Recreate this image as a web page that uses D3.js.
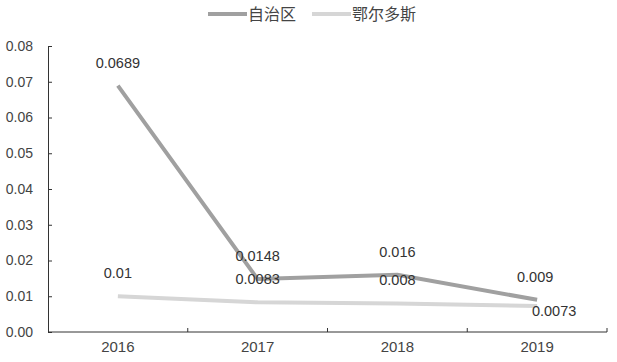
<!DOCTYPE html>
<html><head><meta charset="utf-8">
<script src="https://cdn.jsdelivr.net/npm/d3@7"></script>
<style>body{margin:0;background:#fff}svg{display:block}</style>
</head><body><svg id="c" width="617" height="362"></svg>
<script>
const categories = ["2016","2017","2018","2019"];
const seriesNames = ["自治区","鄂尔多斯"];
const zizhiqu = [0.0689, 0.0148, 0.016, 0.009];
const ordos = [0.01, 0.0083, 0.008, 0.0073];
const yTicks = [0,0.01,0.02,0.03,0.04,0.05,0.06,0.07,0.08];
const yTickLabels = ["0.00","0.01","0.02","0.03","0.04","0.05","0.06","0.07","0.08"];
const zLabels = ["0.0689","0.0148","0.016","0.009"];
const oLabels = ["0.01","0.0083","0.008","0.0073"];

const svg = d3.select("#c");
const font = "'Liberation Sans', 'Noto Sans CJK SC', sans-serif";
const L = 48, R = 607, T = 46, B = 332;
const x = d3.scaleBand().domain(categories).range([L, R]);
const y = d3.scaleLinear().domain([0, 0.08]).range([B, T]);
const cx = d => x(d) + x.bandwidth()/2;

// Y axis
const ya = svg.append("g").attr("transform", `translate(${L},0)`)
  .call(d3.axisLeft(y).tickValues(yTicks).tickFormat((d,i)=>yTickLabels[i]).tickSizeInner(-4).tickSizeOuter(-4).tickPadding(15));
ya.select(".domain").attr("stroke","#333");
ya.selectAll(".tick line").attr("stroke","#333");
ya.selectAll(".tick text").attr("font-family",font).attr("font-size",14).attr("fill","#444");

// X axis
const xa = svg.append("g").attr("transform", `translate(0,${B})`)
  .call(d3.axisBottom(x).tickSize(0).tickPadding(9));
xa.select(".domain").attr("stroke","#333").attr("d", `M${L},0H${R}`);
xa.selectAll(".tick text").attr("font-family",font).attr("font-size",15).attr("fill","#444").attr("dy","0.71em");
// boundary ticks (inside)
const bounds = categories.map(c => x(c)).concat([R]).slice(1);
xa.selectAll(".bt").data(bounds).enter().append("line")
  .attr("x1",d=>d).attr("x2",d=>d).attr("y1",0).attr("y2",-4).attr("stroke","#333");

const line = d3.line().x((d,i)=>cx(categories[i])).y(d=>y(d));
const colors = ["#a0a0a0","#d6d6d6"];
svg.append("path").datum(ordos).attr("d",line).attr("fill","none").attr("stroke",colors[1]).attr("stroke-width",4);
svg.append("path").datum(zizhiqu).attr("d",line).attr("fill","none").attr("stroke",colors[0]).attr("stroke-width",4);

// labels
const lab = (vals, texts, offs, dxs) => {
  svg.append("g").selectAll("text").data(vals).enter().append("text")
    .attr("x",(d,i)=>cx(categories[i]) + dxs[i])
    .attr("y",(d,i)=>y(d)+offs[i])
    .attr("text-anchor","middle").attr("font-family",font).attr("font-size",14.5).attr("fill","#333")
    .text((d,i)=>texts[i]);
};
lab(zizhiqu, zLabels, [-18,-18,-18,-18], [0,0,0,-2]);
lab(ordos, oLabels, [-18,-18,-18,10], [0,0,0,17]);

// legend
const lg = svg.append("g").attr("font-family",font).attr("font-size",16).attr("fill","#444");
const items = [{x:208, c:colors[0], t:seriesNames[0]},{x:312, c:colors[1], t:seriesNames[1]}];
items.forEach(it => {
  lg.append("line").attr("x1",it.x).attr("x2",it.x+39).attr("y1",14).attr("y2",14).attr("stroke",it.c).attr("stroke-width",4);
  lg.append("text").attr("x",it.x+40).attr("y",14).attr("dy","0.35em").text(it.t);
});
</script></body></html>
